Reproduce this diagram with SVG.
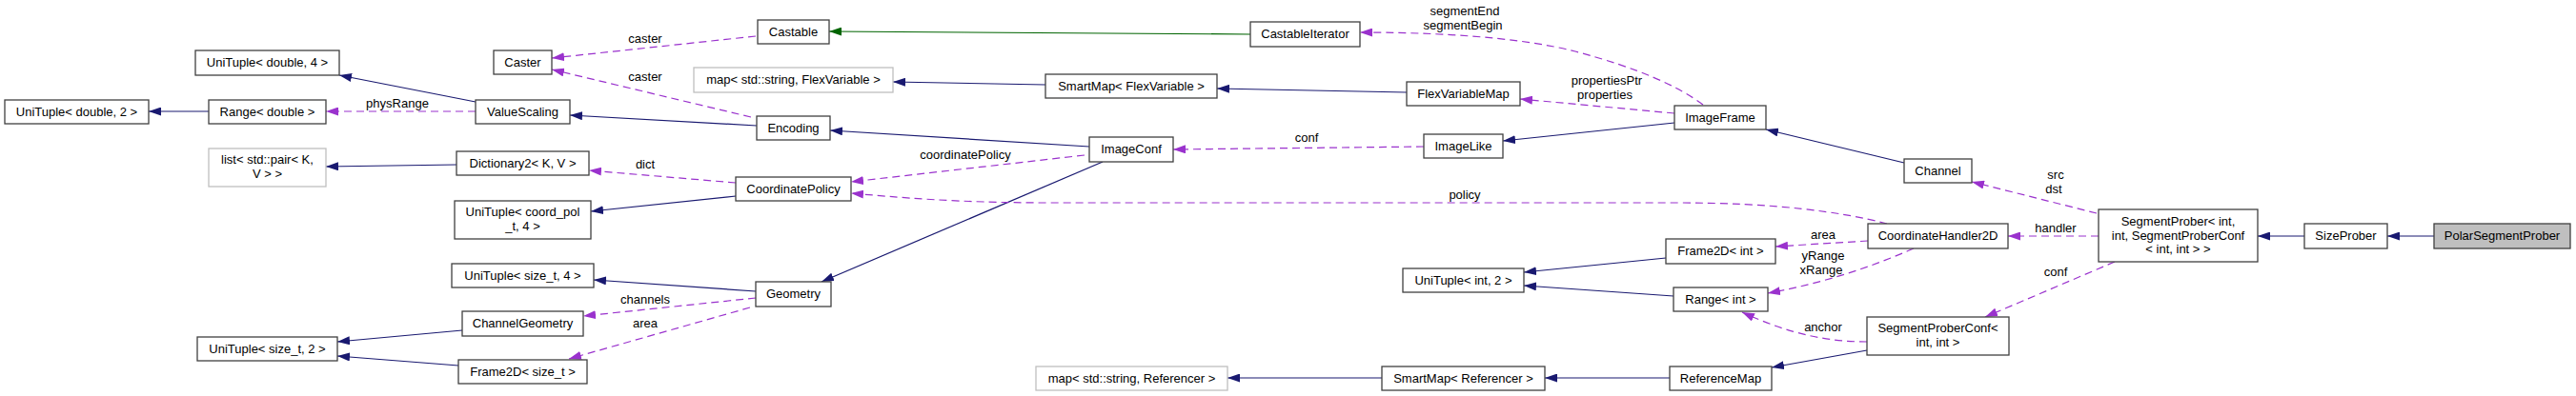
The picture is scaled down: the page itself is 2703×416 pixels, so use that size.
<svg xmlns="http://www.w3.org/2000/svg" width="2703" height="416" viewBox="0 0 2703 416">
<style>
.box{fill:#fff;stroke:#404040;stroke-width:1.3}
.ext{fill:#fff;stroke:#bfbfbf;stroke-width:1.3}
.main{fill:#bfbfbf;stroke:#404040;stroke-width:1.3}
text{font-family:"Liberation Sans",Arial,sans-serif;font-size:13px;fill:#000}
.n text{text-anchor:middle}
.lbl{text-anchor:middle}
.inh{fill:none;stroke:#191970;stroke-width:1.2;marker-end:url(#an)}
.prot{fill:none;stroke:#006400;stroke-width:1.2;marker-end:url(#ag)}
.use{fill:none;stroke:#9a32cd;stroke-width:1.2;stroke-dasharray:8,5;marker-end:url(#ap)}
</style>
<defs>
<marker id="an" viewBox="0 0 13 9" refX="13" refY="4.5" markerWidth="13" markerHeight="9" markerUnits="userSpaceOnUse" orient="auto"><path d="M0,0 L13,4.5 L0,9 z" fill="#191970"/></marker>
<marker id="ag" viewBox="0 0 13 9" refX="13" refY="4.5" markerWidth="13" markerHeight="9" markerUnits="userSpaceOnUse" orient="auto"><path d="M0,0 L13,4.5 L0,9 z" fill="#006400"/></marker>
<marker id="ap" viewBox="0 0 13 9" refX="13" refY="4.5" markerWidth="13" markerHeight="9" markerUnits="userSpaceOnUse" orient="auto"><path d="M0,0 L13,4.5 L0,9 z" fill="#9a32cd"/></marker>
</defs>
<rect width="2703" height="416" fill="#fff"/>
<g id="edges">
<path class="inh" d="M499,107 L356,79"/>
<path class="inh" d="M219,117 L156,117"/>
<path class="use" d="M499,117 L342,117"/>
<text class="lbl" x="417" y="113">physRange</text>
<path class="inh" d="M479,173 L342,175"/>
<path class="use" d="M793,38 L579,61"/>
<text class="lbl" x="677" y="45">caster</text>
<path class="use" d="M788,123 L579,73"/>
<text class="lbl" x="677" y="85">caster</text>
<path class="inh" d="M794,132 L598,121"/>
<path class="use" d="M772,192 L618,179"/>
<text class="lbl" x="677" y="177">dict</text>
<path class="inh" d="M772,206 L620,222"/>
<path class="inh" d="M793,306 L623,294"/>
<path class="use" d="M793,313 L612,332"/>
<text class="lbl" x="677" y="319">channels</text>
<path class="use" d="M787,323 L597,377"/>
<text class="lbl" x="677" y="344">area</text>
<path class="inh" d="M485,347 L354,359"/>
<path class="inh" d="M481,384 L354,374"/>
<path class="inh" d="M1157,170 L862,296"/>
<path class="inh" d="M1143,154 L871,137"/>
<path class="use" d="M1138,163 L893,191"/>
<text class="lbl" x="1013" y="167">coordinatePolicy</text>
<path class="use" d="M1980,235 C1930,222 1860,213 1760,213 L1100,213 C1000,213 940,207 893,203"/>
<text class="lbl" x="1537" y="209">policy</text>
<path class="use" d="M1494,154 L1231,157"/>
<text class="lbl" x="1371" y="149">conf</text>
<path class="inh" d="M1097,89 L937,86"/>
<path class="inh" d="M1476,97 L1277,93"/>
<path class="prot" d="M1312,36 L870,33"/>
<path class="use" d="M1787,110 C1760,90 1720,72 1653,54 C1590,38 1500,34 1427,34"/>
<text class="lbl" x="1537" y="16">segmentEnd</text>
<text class="lbl" x="1535" y="31">segmentBegin</text>
<path class="use" d="M1757,119 L1595,104"/>
<text class="lbl" x="1686" y="89">propertiesPtr</text>
<text class="lbl" x="1684" y="104">properties</text>
<path class="inh" d="M1757,129 L1577,148"/>
<path class="inh" d="M1998,171 L1853,136"/>
<path class="use" d="M2200,224 L2069,191"/>
<text class="lbl" x="2157" y="188">src</text>
<text class="lbl" x="2155" y="203">dst</text>
<path class="use" d="M2202,248 L2107,248"/>
<text class="lbl" x="2157" y="244">handler</text>
<path class="use" d="M2219,275 L2083,333"/>
<text class="lbl" x="2157" y="290">conf</text>
<path class="use" d="M1960,253 L1863,259"/>
<text class="lbl" x="1913" y="251">area</text>
<path class="use" d="M2008,261 C1960,282 1910,298 1855,308"/>
<text class="lbl" x="1913" y="273">yRange</text>
<text class="lbl" x="1911" y="288">xRange</text>
<path class="use" d="M1959,359 C1920,359 1880,352 1828,328"/>
<text class="lbl" x="1913" y="348">anchor</text>
<path class="inh" d="M1959,368 L1859,386"/>
<path class="inh" d="M1752,397 L1621,397"/>
<path class="inh" d="M1450,397 L1288,397"/>
<path class="inh" d="M1748,271 L1599,286"/>
<path class="inh" d="M1756,311 L1599,300"/>
<path class="inh" d="M2418,248 L2369,248"/>
<path class="inh" d="M2554,248 L2505,248"/>
</g>
<g class="n" id="n_ut_d2"><rect class="box" x="5" y="105" width="151" height="25"/><text x="80.5" y="122">UniTuple&lt; double, 2 &gt;</text></g>
<g class="n" id="n_ut_d4"><rect class="box" x="205" y="53" width="151" height="26"/><text x="280.5" y="70">UniTuple&lt; double, 4 &gt;</text></g>
<g class="n" id="n_range_d"><rect class="box" x="219" y="105" width="123" height="25"/><text x="280.5" y="122">Range&lt; double &gt;</text></g>
<g class="n" id="n_list"><rect class="ext" x="219" y="156" width="123" height="40"/><text x="280.5" y="172">list&lt; std::pair&lt; K,</text><text x="280.5" y="187">V &gt; &gt;</text></g>
<g class="n" id="n_ut_st2"><rect class="box" x="207" y="354" width="147" height="25"/><text x="280.5" y="371">UniTuple&lt; size_t, 2 &gt;</text></g>
<g class="n" id="n_caster"><rect class="box" x="518" y="53" width="61" height="25"/><text x="548.5" y="70">Caster</text></g>
<g class="n" id="n_castable"><rect class="box" x="795" y="21" width="75" height="25"/><text x="832.5" y="38">Castable</text></g>
<g class="n" id="n_vs"><rect class="box" x="499" y="105" width="99" height="25"/><text x="548.5" y="122">ValueScaling</text></g>
<g class="n" id="n_map_fv"><rect class="ext" x="728" y="71" width="209" height="26"/><text x="832.5" y="88">map&lt; std::string, FlexVariable &gt;</text></g>
<g class="n" id="n_enc"><rect class="box" x="794" y="122" width="77" height="25"/><text x="832.5" y="139">Encoding</text></g>
<g class="n" id="n_dict"><rect class="box" x="479" y="159" width="139" height="25"/><text x="548.5" y="176">Dictionary2&lt; K, V &gt;</text></g>
<g class="n" id="n_cp"><rect class="box" x="772" y="186" width="121" height="25"/><text x="832.5" y="203">CoordinatePolicy</text></g>
<g class="n" id="n_ut_cp"><rect class="box" x="477" y="211" width="143" height="40"/><text x="548.5" y="227">UniTuple&lt; coord_pol</text><text x="548.5" y="242">_t, 4 &gt;</text></g>
<g class="n" id="n_ut_st4"><rect class="box" x="474" y="277" width="149" height="25"/><text x="548.5" y="294">UniTuple&lt; size_t, 4 &gt;</text></g>
<g class="n" id="n_geo"><rect class="box" x="793" y="296" width="79" height="26"/><text x="832.5" y="313">Geometry</text></g>
<g class="n" id="n_chgeo"><rect class="box" x="485" y="327" width="127" height="26"/><text x="548.5" y="344">ChannelGeometry</text></g>
<g class="n" id="n_f2d_st"><rect class="box" x="481" y="378" width="135" height="25"/><text x="548.5" y="395">Frame2D&lt; size_t &gt;</text></g>
<g class="n" id="n_sm_fv"><rect class="box" x="1097" y="78" width="180" height="25"/><text x="1187" y="95">SmartMap&lt; FlexVariable &gt;</text></g>
<g class="n" id="n_ic"><rect class="box" x="1143" y="144" width="88" height="26"/><text x="1187" y="161">ImageConf</text></g>
<g class="n" id="n_map_ref"><rect class="ext" x="1087" y="385" width="201" height="25"/><text x="1187.5" y="402">map&lt; std::string, Referencer &gt;</text></g>
<g class="n" id="n_ci"><rect class="box" x="1312" y="23" width="115" height="26"/><text x="1369.5" y="40">CastableIterator</text></g>
<g class="n" id="n_fvm"><rect class="box" x="1476" y="86" width="119" height="25"/><text x="1535.5" y="103">FlexVariableMap</text></g>
<g class="n" id="n_il"><rect class="box" x="1494" y="141" width="83" height="25"/><text x="1535.5" y="158">ImageLike</text></g>
<g class="n" id="n_if"><rect class="box" x="1757" y="111" width="96" height="25"/><text x="1805" y="128">ImageFrame</text></g>
<g class="n" id="n_ut_i2"><rect class="box" x="1472" y="282" width="127" height="25"/><text x="1535.5" y="299">UniTuple&lt; int, 2 &gt;</text></g>
<g class="n" id="n_sm_ref"><rect class="box" x="1450" y="385" width="171" height="25"/><text x="1535.5" y="402">SmartMap&lt; Referencer &gt;</text></g>
<g class="n" id="n_f2d_i"><rect class="box" x="1748" y="251" width="115" height="26"/><text x="1805.5" y="268">Frame2D&lt; int &gt;</text></g>
<g class="n" id="n_range_i"><rect class="box" x="1756" y="302" width="99" height="25"/><text x="1805.5" y="319">Range&lt; int &gt;</text></g>
<g class="n" id="n_refmap"><rect class="box" x="1752" y="385" width="107" height="25"/><text x="1805.5" y="402">ReferenceMap</text></g>
<g class="n" id="n_ch"><rect class="box" x="1998" y="167" width="71" height="25"/><text x="2033.5" y="184">Channel</text></g>
<g class="n" id="n_ch2d"><rect class="box" x="1960" y="235" width="147" height="26"/><text x="2033.5" y="252">CoordinateHandler2D</text></g>
<g class="n" id="n_spc"><rect class="box" x="1959" y="333" width="149" height="40"/><text x="2033.5" y="349">SegmentProberConf&lt;</text><text x="2033.5" y="364">int, int &gt;</text></g>
<g class="n" id="n_sp"><rect class="box" x="2202" y="220" width="167" height="55"/><text x="2285.5" y="237">SegmentProber&lt; int,</text><text x="2285.5" y="251.5">int, SegmentProberConf</text><text x="2285.5" y="266">&lt; int, int &gt; &gt;</text></g>
<g class="n" id="n_size"><rect class="box" x="2418" y="235" width="87" height="26"/><text x="2461.5" y="252">SizeProber</text></g>
<g class="n" id="n_polar"><rect class="main" x="2554" y="235" width="143" height="26"/><text x="2625.5" y="252">PolarSegmentProber</text></g>
</svg>
